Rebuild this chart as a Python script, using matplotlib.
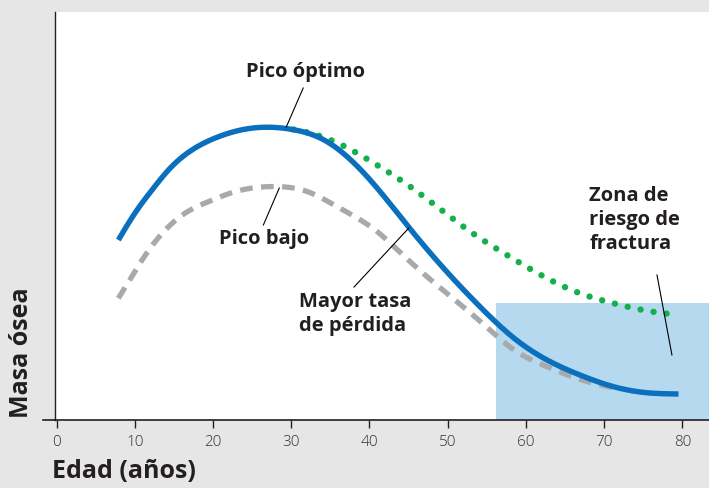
import matplotlib
matplotlib.use("Agg")
import matplotlib.pyplot as plt
import numpy as np
from matplotlib.patches import Rectangle
from matplotlib.lines import Line2D

plt.rcParams['font.family'] = ['Open Sans', 'DejaVu Sans']

# Data (age in years, bone mass in arbitrary units)
age_blue = [7.9, 10.0, 12.2, 14.3, 17.3, 20.7, 24.0, 27.5, 30.0, 34.2, 38.5, 41.9, 44.9, 47.8, 54.2, 58.5, 62.7, 66.9, 71.2, 75.4, 79.5]
mass_blue = [180, 206.7, 230, 250, 270, 283.3, 290.7, 292.7, 290.7, 280, 253.3, 223.3, 194, 166.7, 112.7, 81.7, 60, 45, 33.3, 27.3, 26]

age_gray = [7.9, 9.6, 11.8, 13.9, 16.4, 19.4, 22.8, 25.8, 28.7, 32.1, 35.5, 38.5, 41.0, 43.6, 45.9, 54.2, 58.5, 62.7, 66.9, 71.2]
mass_gray = [121.7, 143.3, 170, 190, 206.7, 218.3, 228.3, 232.7, 233.3, 228.3, 215, 201.7, 188.3, 170, 153.3, 98.3, 70, 53.3, 40.7, 32]

age_green = [30.3, 31.7, 36.0, 40.6, 44.9, 48.9, 52.9, 57.2, 62.7, 66.9, 71.2, 75.4, 79.5]
mass_green = [290.5, 288.3, 276.7, 256.7, 235, 211.7, 188.3, 166.7, 141.7, 126.7, 116.7, 109.3, 105]

zone_start = 56.2
zone_top = 117

xticks = [0, 10, 20, 30, 40, 50, 60, 70, 80]

BLUE = '#0a6fbd'
GRAY = '#a7a9ac'
GREEN = '#13b04b'
ZONE = '#b5d9ef'

fig = plt.figure(figsize=(7.09, 4.88), dpi=100, facecolor='#e6e6e6')
W, H = 709, 488
ax = fig.add_axes([55 / W, (H - 420) / H, (W - 55) / W, (420 - 12) / H])
ax.set_facecolor('white')


def spline(x, y, n=400):
    """Natural cubic spline through the read points (for smooth drawing)."""
    x = np.asarray(x, float); y = np.asarray(y, float)
    k = len(x)
    h = np.diff(x)
    A = np.zeros((k, k)); b = np.zeros(k)
    A[0, 0] = A[-1, -1] = 1
    for i in range(1, k - 1):
        A[i, i - 1] = h[i - 1]
        A[i, i] = 2 * (h[i - 1] + h[i])
        A[i, i + 1] = h[i]
        b[i] = 3 * ((y[i + 1] - y[i]) / h[i] - (y[i] - y[i - 1]) / h[i - 1])
    c = np.linalg.solve(A, b)
    bb = (y[1:] - y[:-1]) / h - h * (2 * c[:-1] + c[1:]) / 3
    d = (c[1:] - c[:-1]) / (3 * h)
    t = np.linspace(x[0], x[-1], n)
    idx = np.clip(np.searchsorted(x, t) - 1, 0, k - 2)
    dx = t - x[idx]
    return t, y[idx] + bb[idx] * dx + c[idx] * dx**2 + d[idx] * dx**3


ax.add_patch(Rectangle((zone_start, 0), 90 - zone_start, zone_top, facecolor=ZONE, edgecolor='none', zorder=1))

tg, yg = spline(age_gray, mass_gray)
ax.plot(tg, yg, color=GRAY, lw=3.8, dashes=(2.4, 1.6), dash_capstyle='butt', zorder=2)
tn, yn = spline(age_green, mass_green)
ax.plot(tn, yn, color=GREEN, lw=4.6, linestyle=(0, (0.01, 2.05)), dash_capstyle='round', zorder=3)
tb, yb = spline(age_blue, mass_blue)
ax.plot(tb, yb, color=BLUE, lw=3.9, solid_capstyle='butt', zorder=4)

ax.set_xlim(-0.2, 83.4)
ax.set_ylim(0, 408)

for s in ['top', 'right']:
    ax.spines[s].set_visible(False)
ax.spines['left'].set_color('#231f20')
ax.spines['bottom'].set_color('#231f20')
ax.spines['left'].set_linewidth(1.0)
ax.spines['bottom'].set_linewidth(1.2)
ax.add_line(Line2D([-12 / 654, 0], [0, 0], transform=ax.transAxes, color='#231f20', lw=1.2, clip_on=False))

ax.set_yticks([])
ax.set_xticks(xticks)
ax.set_xticklabels([str(v) for v in xticks], fontsize=11, color='#333333', fontweight='light')
ax.tick_params(axis='x', direction='out', length=6, width=1, color='#231f20', pad=5)

ax.set_xlabel('Edad (años)', fontsize=18, fontweight='bold', color='#231f20')
ax.xaxis.set_label_coords(-0.004, -0.095)
ax.xaxis.label.set_horizontalalignment('left')

fig.text(22 / W, (H - 418) / H, 'Masa ósea', rotation=90, rotation_mode='default',
         ha='center', va='bottom', fontsize=18, fontweight='bold', color='#231f20')

tkw = dict(fontsize=14.5, fontweight='bold', color='#231f20')


def px(xp, yp):
    return ((xp - 54.5) / 7.85, 420 - yp)


ax.text(*px(304.5, 72), 'Pico óptimo', ha='center', va='center', **tkw)
ax.plot(*zip(px(302, 88), px(285, 127)), color='black', lw=0.8, zorder=5)
ax.text(*px(263, 239), 'Pico bajo', ha='center', va='center', **tkw)
ax.plot(*zip(px(278, 188), px(262, 225)), color='black', lw=0.8, zorder=5)
ax.text(*px(298, 314), 'Mayor tasa\nde pérdida', ha='left', va='center', linespacing=1.25, **tkw)
ax.plot(*zip(px(408, 228), px(353, 287)), color='black', lw=0.8, zorder=5)
ax.text(*px(589, 220), 'Zona de\nriesgo de\nfractura', ha='left', va='center', linespacing=1.25, **tkw)
ax.plot(*zip(px(657, 275), px(672, 355)), color='black', lw=0.8, zorder=5)

fig.savefig('out.png', dpi=100, facecolor=fig.get_facecolor())
